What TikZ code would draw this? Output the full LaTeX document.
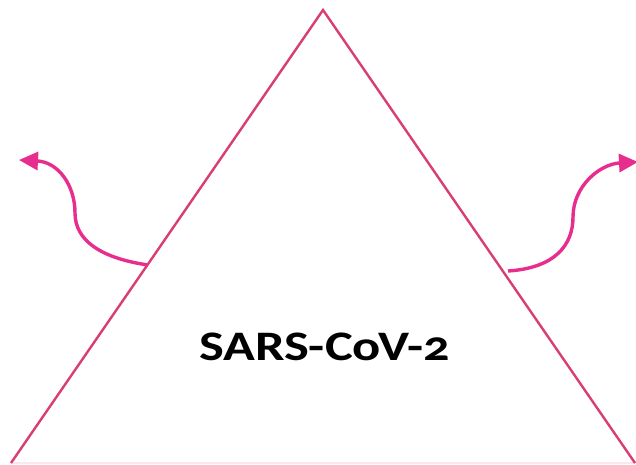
\documentclass[tikz,border=0pt]{standalone}
\usepackage{fontspec}
\setmainfont{Carlito}[Numbers=OldStyle]
\usetikzlibrary{arrows.meta, positioning}
\definecolor{carmim}{RGB}{216, 62, 115}
\definecolor{rosa}{RGB}{231, 46, 142}
\tikzset{
  lado/.style={draw=carmim, line width=2.4pt, line join=miter},
  fundo/.style={draw=carmim!12, line width=2.4pt},
  seta/.style={-{Triangle[length=19pt, width=18pt, fill=rosa]}, draw=rosa, line width=3.4pt},
  rotulo/.style={font=\fontsize{42}{48}\selectfont\bfseries, text=black, inner sep=0pt},
}

\begin{document}
\begin{tikzpicture}[x=1pt, y=-1pt]

\useasboundingbox (0,0) rectangle (636,464);

\coordinate (topo) at (323,10);
\coordinate (esq) at (11,463);
\coordinate (dir) at (635,463);

\draw[fundo] (esq) -- (dir);
\draw[lado] (esq) -- (topo) -- (dir);

\node[rotulo, anchor=base] (virus) at (324.5,360) {\scalebox{1.25}[1]{SARS-CoV-2}};

% setas curvas
\coordinate (saidaEsq) at (148,265);
\coordinate (pontaEsq) at (19,160);
\coordinate (saidaDir) at (508,271);
\coordinate (pontaDir) at (638,162);

\draw[seta] (saidaEsq) .. controls (100,258) and (75,240) .. (75,213)
  .. controls (75,185) and (58,162) .. (pontaEsq);
\draw[seta] (saidaDir) .. controls (555,268) and (573,245) .. (573,217)
  .. controls (573,186) and (600,164) .. (pontaDir);

\end{tikzpicture}
\end{document}
